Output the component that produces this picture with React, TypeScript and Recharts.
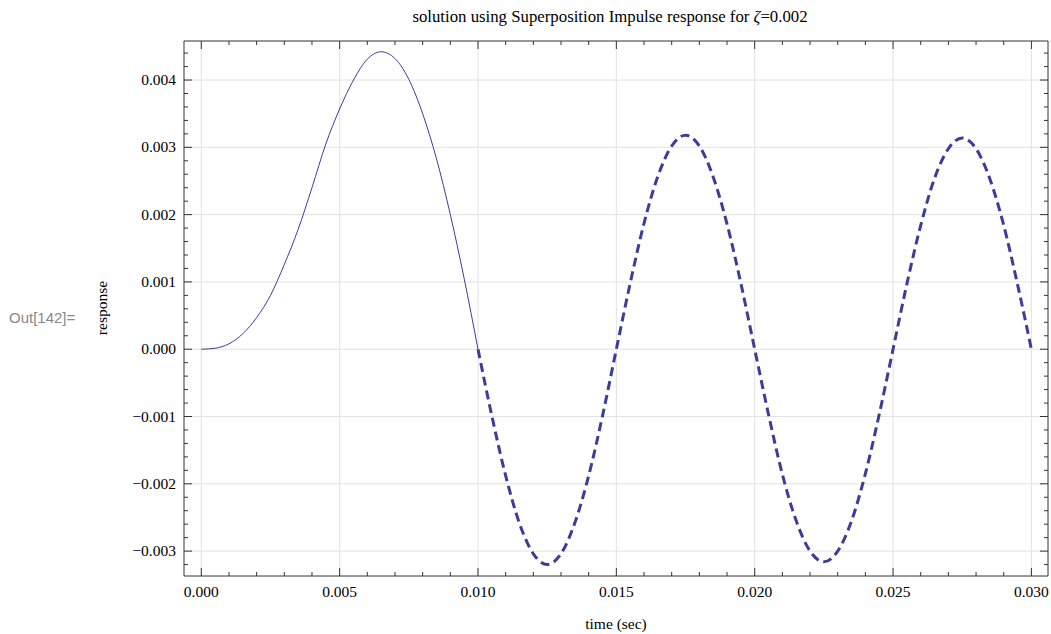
import React from 'react';
import { LineChart, Line, XAxis, YAxis, CartesianGrid } from 'recharts';

// solid part: response while the impulse train acts (0 .. 0.010 s)
const forcedTime = [
  0, 0.0005, 0.001, 0.0015, 0.002, 0.0025, 0.003, 0.0035, 0.004, 0.0045, 0.005,
  0.0055, 0.006, 0.0065, 0.007, 0.0075, 0.008, 0.0085, 0.009, 0.0095, 0.01,
];
const forcedResp = [
  0, 0.000015, 0.00008, 0.00023, 0.00047, 0.0008, 0.00126, 0.00178, 0.0024, 0.00305, 0.00357,
  0.004, 0.00431, 0.00442, 0.00432, 0.00401, 0.0035, 0.00283, 0.002, 0.00105, 0,
];

// dashed part: free vibration afterwards (0.010 .. 0.030 s)
const freeTime = [
  0.01, 0.0105, 0.011, 0.0115, 0.012, 0.0125, 0.013, 0.0135, 0.014, 0.0145, 0.015,
  0.0155, 0.016, 0.0165, 0.017, 0.0175, 0.018, 0.0185, 0.019, 0.0195, 0.02,
  0.0205, 0.021, 0.0215, 0.022, 0.0225, 0.023, 0.0235, 0.024, 0.0245, 0.025,
  0.0255, 0.026, 0.0265, 0.027, 0.0275, 0.028, 0.0285, 0.029, 0.0295, 0.03,
];
const freeResp = [
  0, -0.00099, -0.00188, -0.00259, -0.00304, -0.0032, -0.00304, -0.00258, -0.00188, -0.00099, 0,
  0.00098, 0.00187, 0.00257, 0.00302, 0.00318, 0.00302, 0.00256, 0.00186, 0.00098, 0,
  -0.00097, -0.00186, -0.00255, -0.003, -0.00316, -0.003, -0.00255, -0.00185, -0.00097, 0,
  0.00097, 0.00184, 0.00254, 0.00298, 0.00314, 0.00298, 0.00253, 0.00184, 0.00096, 0,
];

const xMajor = [0, 0.005, 0.01, 0.015, 0.02, 0.025, 0.03];
const yMajor = [-0.003, -0.002, -0.001, 0, 0.001, 0.002, 0.003, 0.004];
const xMinorStep = 0.001;
const yMinorStep = 0.0002;

const xDomain = [-0.000625, 0.0306];
const yDomain = [-0.00337, 0.00458];

const xTicks: number[] = [];
for (let i = 0; i <= 30; i++) xTicks.push(+(i * xMinorStep).toFixed(4));
const yTicks: number[] = [];
for (let i = -16; i <= 22; i++) yTicks.push(+(i * yMinorStep).toFixed(4));

const rows: { t: number; forced?: number; free?: number }[] = [];
forcedTime.forEach((t, i) => rows.push({ t, forced: forcedResp[i] }));
freeTime.forEach((t, i) => {
  const hit = rows.find((r) => Math.abs(r.t - t) < 1e-9);
  if (hit) hit.free = freeResp[i];
  else rows.push({ t, free: freeResp[i] });
});

const lineColor = '#3d3d99';
const frame = '#333';
const serif = '"Liberation Serif", "Times New Roman", serif';

const isMajor = (v: number, list: number[]) => list.some((m) => Math.abs(m - v) < 1e-7);
const fmt = (v: number) => {
  const s = Math.abs(v).toFixed(3);
  return v < -1e-9 ? '\u2212' + s : s;
};

const BottomTick = (props: any) => {
  const { x, y, payload } = props;
  const major = isMajor(payload.value, xMajor);
  return (
    <g>
      <line x1={x} y1={y} x2={x} y2={y - (major ? 8 : 4)} stroke={frame} />
      {major && (
        <text x={x} y={y + 21} textAnchor="middle" fontFamily={serif} fontSize={15.5} fill="#000">
          {fmt(payload.value)}
        </text>
      )}
    </g>
  );
};

const TopTick = (props: any) => {
  const { x, y, payload } = props;
  const major = isMajor(payload.value, xMajor);
  return <line x1={x} y1={y} x2={x} y2={y + (major ? 8 : 4)} stroke={frame} />;
};

const LeftTick = (props: any) => {
  const { x, y, payload } = props;
  const major = isMajor(payload.value, yMajor);
  return (
    <g>
      <line x1={x} y1={y} x2={x + (major ? 8 : 4)} y2={y} stroke={frame} />
      {major && (
        <text x={x - 8} y={y + 5} textAnchor="end" fontFamily={serif} fontSize={15.5} fill="#000">
          {fmt(payload.value)}
        </text>
      )}
    </g>
  );
};

const RightTick = (props: any) => {
  const { x, y, payload } = props;
  const major = isMajor(payload.value, yMajor);
  return <line x1={x} y1={y} x2={x - (major ? 8 : 4)} y2={y} stroke={frame} />;
};

export default function App() {
  return (
    <div style={{ position: 'absolute', left: 0, top: 0, width: 1051, height: 634, background: '#fff' }}>
      <LineChart
        width={1051}
        height={634}
        data={rows}
        margin={{ top: 40, right: 2, bottom: 0, left: 0 }}
      >
        <CartesianGrid
          horizontalValues={yMajor}
          verticalValues={xMajor}
          stroke="#e2e2e2"
          strokeWidth={1}
        />
        <XAxis
          dataKey="t"
          type="number"
          domain={xDomain}
          ticks={xTicks}
          interval={0}
          tick={<BottomTick />}
          tickLine={false}
          tickSize={0}
          tickMargin={0}
          height={58}
          axisLine={{ stroke: frame }}
          allowDataOverflow
        />
        <XAxis
          xAxisId="top"
          orientation="top"
          dataKey="t"
          type="number"
          domain={xDomain}
          ticks={xTicks}
          interval={0}
          tick={<TopTick />}
          tickLine={false}
          tickSize={0}
          tickMargin={0}
          height={1}
          axisLine={{ stroke: frame }}
          allowDataOverflow
        />
        <YAxis
          type="number"
          domain={yDomain}
          ticks={yTicks}
          interval={0}
          tick={<LeftTick />}
          tickLine={false}
          tickSize={0}
          tickMargin={0}
          width={184}
          axisLine={{ stroke: frame }}
          allowDataOverflow
        />
        <YAxis
          yAxisId="right"
          orientation="right"
          type="number"
          domain={yDomain}
          ticks={yTicks}
          interval={0}
          tick={<RightTick />}
          tickLine={false}
          tickSize={0}
          tickMargin={0}
          width={1}
          axisLine={{ stroke: frame }}
          allowDataOverflow
        />
        <Line
          dataKey="forced"
          type="monotone"
          stroke={lineColor}
          strokeWidth={1}
          dot={false}
          activeDot={false}
          connectNulls
          isAnimationActive={false}
        />
        <Line
          dataKey="free"
          type="monotone"
          stroke={lineColor}
          strokeWidth={3}
          strokeDasharray="9 5"
          dot={false}
          activeDot={false}
          connectNulls
          isAnimationActive={false}
        />
      </LineChart>
      <svg
        width={1051}
        height={634}
        style={{ position: 'absolute', left: 0, top: 0, pointerEvents: 'none' }}
      >
        <text x={610} y={22} textAnchor="middle" fontFamily={serif} fontSize={16.8} fill="#000">
          solution using Superposition Impulse response for <tspan fontStyle="italic">ζ</tspan>=0.002
        </text>
        <text x={616} y={629} textAnchor="middle" fontFamily={serif} fontSize={15.5} fill="#000">
          time (sec)
        </text>
        <text
          x={107}
          y={308}
          transform="rotate(-90 107 308)"
          textAnchor="middle"
          fontFamily={serif}
          fontSize={15.5}
          fill="#000"
        >
          response
        </text>
        <text x={9} y={323} fontFamily='"Liberation Sans", Arial, sans-serif' fontSize={15} fill="#888">
          Out[142]=
        </text>
      </svg>
    </div>
  );
}
